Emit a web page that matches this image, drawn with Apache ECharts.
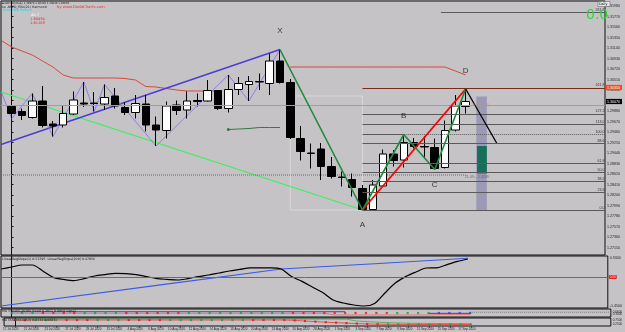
<!DOCTYPE html>
<html><head><meta charset="utf-8">
<script src="https://cdn.jsdelivr.net/npm/echarts@6/dist/echarts.min.js"></script>
<style>html,body{margin:0;padding:0;background:#c6c3c6;}#c{width:625px;height:332px;}</style>
</head><body><div id="c"></div>
<script>
// ---------- data ----------
const dates = ['17 Jul 2020','21 Jul 2020','23 Jul 2020','27 Jul 2020','29 Jul 2020','31 Jul 2020','4 Aug 2020','6 Aug 2020','10 Aug 2020','12 Aug 2020','14 Aug 2020','18 Aug 2020','20 Aug 2020','24 Aug 2020','26 Aug 2020','28 Aug 2020','1 Sep 2020','3 Sep 2020','7 Sep 2020','9 Sep 2020','11 Sep 2020','15 Sep 2020','17 Sep 2020'];
const opens  = [1.2997,1.2987,1.2975,1.3008,1.2962,1.2960,1.2982,1.3004,1.3004,1.3002,1.3018,1.2995,1.2985,1.3002,1.2960,1.2949,1.3000,1.2990,1.3009,1.3008,1.3029,1.2993,1.3031,1.3041,1.3047,1.3043,1.3088,1.3045,1.2933,1.2904,1.2912,1.2877,1.2856,1.2851,1.2833,1.2791,1.2838,1.2902,1.2890,1.2925,1.2917,1.2915,1.2875,1.2950,1.2997];
const closes = [1.2983,1.2979,1.3008,1.2959,1.2958,1.2983,1.3010,1.3002,1.3003,1.3015,1.2998,1.2985,1.3003,1.2960,1.2950,1.2998,1.2989,1.3008,1.3007,1.3029,1.2993,1.3031,1.3043,1.3047,1.3046,1.3088,1.3045,1.2935,1.2907,1.2903,1.2877,1.2857,1.2855,1.2835,1.2791,1.2840,1.2902,1.2889,1.2925,1.2917,1.2916,1.2873,1.2949,1.2998,1.3007];
const lows   = [1.2973,1.2970,1.2973,1.2955,1.2937,1.2955,1.2980,1.2996,1.2987,1.2990,1.2993,1.2980,1.2973,1.2947,1.2918,1.2933,1.2980,1.2973,1.2997,1.3007,1.2990,1.2985,1.3020,1.3008,1.3030,1.3020,1.3043,1.2932,1.2889,1.2873,1.2850,1.2853,1.2837,1.2817,1.2790,1.2791,1.2837,1.2877,1.2875,1.2913,1.2894,1.2871,1.2873,1.2947,1.2983];
const highs  = [1.3017,1.2993,1.3023,1.3038,1.2968,1.3000,1.3027,1.3046,1.3026,1.3041,1.3034,1.3005,1.3020,1.3020,1.2977,1.3007,1.3009,1.3027,1.3023,1.3050,1.3030,1.3060,1.3056,1.3058,1.3063,1.3103,1.3111,1.3052,1.2958,1.2923,1.2924,1.2896,1.2867,1.2863,1.2840,1.2850,1.2911,1.2910,1.2941,1.2934,1.2938,1.2933,1.2969,1.3020,1.3032];

const priceTicks = [1.3198,1.3177,1.3156,1.3135,1.3114,1.3093,1.3072,1.3051,1.3030,1.3009,1.2988,1.2967,1.2946,1.2925,1.2904,1.2883,1.2862,1.2841,1.2820,1.2799,1.2778,1.2757,1.2736,1.2715];

// red channel line (two pieces)
const redLineAStart = -1;
const redLineA = [1.3129,1.3116,1.3108,1.3100,1.3088,1.3076,1.3060,1.3054,1.3054,1.3054,1.3054,1.3054,1.3053,1.3050,1.3037,1.3036,1.3033,1.3030,1.3028,1.3028,1.3028,1.3028];
const redLineBStart = 27;
const redLineB = [1.3076,1.3076,1.3076,1.3076,1.3076,1.3076,1.3076,1.3076,1.3076,1.3076,1.3076,1.3076,1.3076,1.3076,1.3076,1.3076,1.3068,1.3060];
const hLevel = 1.3035;            // long salmon horizontal
const dottedLevel = 1.2860;       // dotted horizontal
// trend lines (candle index, price)
const limeIdx = [-1.03, 34], limeP = [1.3026, 1.2790];
const blueIdx = [-1.03, 26], blueP = [1.2921, 1.3111];
const zigIdx = [-1,0,2,4,7,8,9,14,21,23,26];
const zigP   = [1.3026,1.2973,1.3023,1.2937,1.3046,1.2987,1.3041,1.2918,1.3060,1.3008,1.3111];
const xaIdx = [26,34], xaP = [1.3111,1.2790];
const abcdIdx = [34,38,41,44], abcdP = [1.2790,1.2941,1.2871,1.3032];
const adIdx = [34,44], adP = [1.2790,1.3032];
const projIdx = [44,47], projP = [1.3032,1.2924];
const dgStart = 21, dgLine = [1.2951,1.2952,1.2953,1.2955,1.2955,1.2955];
// fibonacci
const fibRatios = [0,23.6,38.2,50,61.8,88.6,100,113,127.2,161.8,261.8];
const fibTexts  = ['0.0','23.6','38.2','50.0','61.8','88.6','100.0','113.0','127.2','161.8','261.8'];
const fibStarts = [34,34,34,34,34,34,38,34,34,34,41.6];
// boxes
const bandIdx = [45.03,46.05], bandP = [1.3017,1.2789];
const tealIdx = [45.1,46.05], tealP = [1.2918,1.2863];
const rectIdx = [27,34], rectP = [1.3018,1.2790];
// point labels
const ptNames = ['X','A','B','C','D'];
const ptIdx = [26,34,38,41,44];
const ptP = [1.3148,1.2760,1.2978,1.2841,1.3069];

// oscillator panel
const oscStart = -1;
const osc = [0.40,0.50,0.60,0.60,0.30,-0.02,-0.12,-0.18,-0.08,0.05,0.12,0.18,0.17,0.12,0.02,-0.08,-0.12,-0.15,-0.08,0.02,0.10,0.20,0.30,0.38,0.46,0.46,0.46,0.40,0.02,-0.22,-0.50,-0.78,-1.15,-1.30,-1.40,-1.45,-1.32,-0.80,-0.30,0.02,0.25,0.45,0.46,0.62,0.78,0.90];
const oscSlowIdx = [-1.03,14,26,35,44];
const oscSlow = [-1.45,-0.42,0.40,0.66,0.935];

// strip panels
const s1Blue = [0.66,0.66,0.66,0.66,0.66,0.66,0.66,0.66,0.66,0.66,0.66,0.66,0.66,0.66,0.66,0.66,0.66,0.66,0.66,0.66,0.66,0.66,0.66,0.66,0.66,0.66,0.66,0.66,0.66,0.66,0.66,0.66,0.66,null,null,null,null,null,null,null,0.46,0.46,0.46,0.46,0.46];
const s1Red  = [0.46,0.46,0.46,0.46,0.46,0.46,0.46,0.46,0.46,0.46,0.46,0.46,0.46,0.46,0.46,0.46,0.46,0.46,0.46,0.46,0.46,0.46,0.46,0.46,0.46,0.46,0.46,0.46,0.46,0.46,0.46,0.25,0.25,0.25,0.25,0.25,0.25,0.25,0.25,0.25,0.25,0.30,0.30,0.30,0.30];
const s1Dots = 'gggrrrrggggrrrrrrggggggggggrrrrrrrrrrggggbbbbg';
const s2Red  = [0.75,0.75,0.75,0.75,0.75,0.75,0.75,0.75,0.75,0.75,0.75,0.75,0.75,0.75,0.75,0.75,0.75,0.75,0.75,0.75,0.75,0.75,0.75,0.75,0.75,0.75,0.75,0.70,0.62,0.55,0.48,0.42,0.36,0.30,0.26,0.23,0.21,0.20,0.19,0.19,0.19,0.19,0.19,0.19,0.19];
const s2Green= [0.85,0.85,0.85,0.85,0.85,0.85,0.85,0.85,0.85,0.85,0.85,0.85,0.85,0.85,0.85,0.85,0.85,0.85,0.85,0.85,0.85,0.85,0.85,0.85,0.85,0.85,0.85,0.85,0.85,0.85,0.85,0.85,0.85,0.62,0.55,0.48,0.42,0.38,0.35,0.33,0.32,0.31,0.30,0.30,0.29];
const s2Dots = 'rrgggrrrgggrrrrggggggggrrrrrrrrrrrrrggggggggg';

// ---------- layout ----------
const XMIN = -1.03, XMAX = 57.5;
const PMIN = 1.2700, PMAX = 1.3208;
const BG = '#c6c3c6';
const tiny = 3.6;
const seq = (start, arr) => arr.map((v, k) => [start + k, v]);
const pairs = (xs, ys) => xs.map((x, k) => [x, ys[k]]);
const dotColor = c => c === 'g' ? '#11a23a' : (c === 'b' ? '#2d3fe0' : '#ee1111');
const near = (a, b) => Math.abs(a - b) < 1e-7;

const grids = [
  {left:1, top:1, width:610, height:254},
  {left:1, top:256, width:610, height:52},
  {left:1, top:309, width:610, height:8},
  {left:1, top:318, width:610, height:8}
].map(g => Object.assign(g, {show:true, borderColor:'#111', borderWidth:1, backgroundColor:'transparent'}));

const xAxes = grids.map((g, i) => ({
  type:'value', gridIndex:i, min:XMIN, max:XMAX, show: i === 3,
  axisLine:{show:false}, splitLine:{show:false},
  axisTick:{show: i === 3, length:1.5, lineStyle:{color:'#333'}, customValues: dates.map((d,k)=>2*k)},
  axisLabel:{show: i === 3, customValues: dates.map((d,k)=>2*k), formatter: v => dates[Math.round(v/2)] || '', fontSize:3, color:'#222', margin:1.5, padding:[0,8,0,0]}
}));

const axLine = {show:true, lineStyle:{color:'#111', width:1}};
const priceLabelValues = priceTicks.concat([hLevel, closes[44]]);
const yAxes = [
  {type:'value', gridIndex:0, position:'right', min:PMIN, max:PMAX, axisLine:axLine, splitLine:{show:false},
   axisTick:{show:true, length:2, customValues:priceTicks, lineStyle:{color:'#222'}},
   axisLabel:{customValues:priceLabelValues, margin:1, fontSize:tiny, color:'#222',
     formatter: v => near(v, hLevel) ? '{o|' + v.toFixed(5) + '}' : (near(v, closes[44]) ? '{k|' + v.toFixed(5) + '}' : '{n|' + v.toFixed(5) + '}'),
     rich:{
       n:{fontSize:tiny, color:'#222', padding:[0,0,0,1]},
       o:{fontSize:tiny, color:'#fff', backgroundColor:'#ff4a14', padding:[0.6,2,0.6,1]},
       k:{fontSize:tiny, color:'#fff', backgroundColor:'#000', padding:[0.6,2,0.6,1]}
     }}},
  {type:'value', gridIndex:1, position:'right', min:-1.55, max:1.05, axisLine:axLine, splitLine:{show:false},
   axisTick:{show:false}, axisLabel:{customValues:[0.93,0,-1.45], margin:1,
     formatter: v => near(v, 0) ? '{r|0.00}' : '{n|' + v.toFixed(4) + '}',
     rich:{n:{fontSize:tiny, color:'#222', padding:[0,0,0,1]}, r:{fontSize:3, color:'#fff', backgroundColor:'#e01010', padding:[0.4,1,0.4,1]}}}},
  {type:'value', gridIndex:2, position:'right', min:0, max:1, axisLine:axLine, splitLine:{show:false},
   axisTick:{show:false}, axisLabel:{customValues:[0.66,0.3], formatter: v => v.toFixed(4), fontSize:3, color:'#222', margin:2}},
  {type:'value', gridIndex:3, position:'right', min:0, max:1, axisLine:axLine, splitLine:{show:false},
   axisTick:{show:false}, axisLabel:{customValues:[0.75,0.25], formatter: v => v.toFixed(4), fontSize:3, color:'#222', margin:2}}
];

const line = (name, data, color, width, extra) => Object.assign({
  type:'line', name, data, xAxisIndex:0, yAxisIndex:0, showSymbol:false, symbol:'none',
  lineStyle:{color, width}, silent:true, animation:false, z:3
}, extra || {});

// fib mark lines
const fibA = lows[34], fibB = highs[38];
const fibLines = fibRatios.map((r, k) => {
  const lvl = fibA + (fibB - fibA) * r / 100;
  return [
    {coord:[fibStarts[k], lvl],
     lineStyle:{color: r === 161.8 ? '#7a2a18' : '#5a5a5a', width:1, type: r === 100 ? 'dotted' : 'solid'},
     label:{show:true, position:'insideEndTop', formatter: fibTexts[k], fontSize:tiny, color:'#333', distance:0.5}},
    {coord:[XMAX, lvl]}
  ];
});
fibLines.push([{coord:[34, fibB], lineStyle:{color:'#5a5a5a', width:1, type:'solid'}, label:{show:false}}, {coord:[38, fibB]}]);

const series = [
  {
    type:'candlestick', name:'price', xAxisIndex:0, yAxisIndex:0, barWidth:8, animation:false, z:4,
    data: opens.map((o, i) => [i, o, closes[i], lows[i], highs[i]]),
    itemStyle:{color:'#ffffff', color0:'#000000', borderColor:'#000000', borderColor0:'#000000', borderWidth:1}
  },
  line('redA', seq(redLineAStart, redLineA), '#d8483f', 1),
  line('redB', seq(redLineBStart, redLineB), '#d8483f', 1),
  line('lime', pairs(limeIdx, limeP), '#3bf05a', 1.3, {
    markLine:{symbol:['none','none'], silent:true, animation:false, data:[
      {yAxis:hLevel, lineStyle:{color:'#e3876c', width:1, type:'solid'}, label:{show:false}},
      ...fibLines
    ]},
    markArea:{silent:true, animation:false, data:[
      [{coord:[bandIdx[0], bandP[0]], itemStyle:{color:'#9b9ab6'}}, {coord:[bandIdx[1], bandP[1]]}],
      [{coord:[tealIdx[0], tealP[0]], itemStyle:{color:'#176f5a'}}, {coord:[tealIdx[1], tealP[1]]}],
      [{coord:[rectIdx[0], rectP[0]], itemStyle:{color:'rgba(0,0,0,0)', borderColor:'#d9d7d9', borderWidth:1}}, {coord:[rectIdx[1], rectP[1]]}]
    ]}
  }),
  line('dotted', [[XMIN, dottedLevel], [44, dottedLevel]], '#6a6a6a', 1, {lineStyle:{color:'#6a6a6a', width:1, type:'dotted'}}),
  line('blueTrend', pairs(blueIdx, blueP), '#4b3dd6', 1.4),
  line('zigzag', pairs(zigIdx, zigP), '#8e73ea', 0.9),
  line('darkGreen', seq(dgStart, dgLine), '#2f7a4a', 1, {showSymbol:true, symbol:'circle', symbolSize:(v, p) => p.dataIndex === 0 ? 3 : 0, itemStyle:{color:'#2f7a4a'}}),
  line('XA', pairs(xaIdx, xaP), '#1d8a3b', 1.6, {z:5}),
  line('AD', pairs(adIdx, adP), '#ff0000', 1.8, {z:5}),
  line('ABCD', pairs(abcdIdx, abcdP), '#1d8a3b', 1.6, {z:6}),
  line('proj', pairs(projIdx, projP), '#000000', 1.3, {z:6}),
  {
    type:'scatter', name:'pts', xAxisIndex:0, yAxisIndex:0, symbolSize:0, silent:true, animation:false, z:7,
    data: ptNames.map((n, k) => [ptIdx[k], ptP[k], n]),
    label:{show:true, position:'inside', formatter: p => p.data[2], fontSize:8, color:'#111', fontFamily:'Liberation Sans'}
  },
  {
    type:'scatter', name:'note1', xAxisIndex:0, yAxisIndex:0, symbolSize:0, silent:true, animation:false, z:7,
    data: [[44.7, 1.3000]],
    label:{show:true, position:'inside', align:'left', formatter: '0.6(14:41)', fontSize:tiny, color:'#d98a55'}
  },
  {
    type:'scatter', name:'note2', xAxisIndex:0, yAxisIndex:0, symbolSize:0, silent:true, animation:false, z:7,
    data: [[43.9, 1.2856]],
    label:{show:true, position:'inside', align:'left', formatter: '21.4% - 1.3209', fontSize:tiny, color:'#555'}
  },
  // oscillator
  {type:'line', name:'osc', xAxisIndex:1, yAxisIndex:1, data: seq(oscStart, osc), symbol:'none', smooth:0.3,
   lineStyle:{color:'#000', width:1.2}, silent:true, animation:false, z:4,
   markLine:{symbol:['none','none'], silent:true, animation:false, data:[
     {yAxis:0, lineStyle:{color:'#e03a3a', width:1, type:'solid'}, label:{show:false}}
   ]}},
  {type:'line', name:'oscSlow', xAxisIndex:1, yAxisIndex:1, data: pairs(oscSlowIdx, oscSlow), symbol:'none',
   lineStyle:{color:'#3a5ae8', width:1.1}, silent:true, animation:false, z:3},
  // strip 1
  {type:'line', xAxisIndex:2, yAxisIndex:2, data: seq(0, s1Blue), symbol:'none', lineStyle:{color:'#3440e0', width:1}, silent:true, animation:false},
  {type:'line', xAxisIndex:2, yAxisIndex:2, data: seq(0, s1Red), symbol:'none', lineStyle:{color:'#ef7070', width:1}, silent:true, animation:false},
  {type:'line', xAxisIndex:2, yAxisIndex:2, data: [[44, 0.6], [XMAX, 0.6]], symbol:'none', lineStyle:{color:'#777', width:1, type:'dotted'}, silent:true, animation:false},
  {type:'scatter', xAxisIndex:2, yAxisIndex:2, symbol:'rect', symbolSize:2.2, silent:true, animation:false, z:5,
   data: s1Red.map((v, i) => ({value:[i, 0.5], itemStyle:{color: dotColor(s1Dots[i])}}))},
  // strip 2
  {type:'line', xAxisIndex:3, yAxisIndex:3, data: seq(0, s2Green), symbol:'none', lineStyle:{color:'#5fae5f', width:1}, silent:true, animation:false},
  {type:'line', xAxisIndex:3, yAxisIndex:3, data: seq(0, s2Red), symbol:'none', lineStyle:{color:'#ee5050', width:1}, silent:true, animation:false},
  {type:'scatter', xAxisIndex:3, yAxisIndex:3, symbol:'rect', symbolSize:2.2, silent:true, animation:false, z:5,
   data: s2Red.map((v, i) => ({value:[i, v], itemStyle:{color: dotColor(s2Dots[i])}}))}
];

const t = (x, y, text, fill, size, extra) => Object.assign({type:'text', x, y, silent:true, z:100,
  style:{text, fill, font: (size || tiny) + 'px "DejaVu Sans", sans-serif'}}, extra || {});

const option = {
  backgroundColor: BG,
  animation:false,
  grid: grids, xAxis: xAxes, yAxis: yAxes, series,
  graphic: [
    t(2, 1.5, '\u25AA GBPUSD,Daily 1.29970 1.30320 1.29830 1.30070', '#111', 2.6),
    t(2, 5.5, 'ss: ABCD_Fibo(21) Harmonic', '#222', 3.2),
    t(57, 5.5, 'by www.DodaCharts.com', '#ff2a2a', 3.8),
    t(3, 8.5, 'Auto Fibo Pattern', '#10d8e8', 3.4),
    t(31, 13, '45.7', '#ffffff'),
    t(30, 17, '1.60434', '#ff1a1a'),
    t(30, 21, '1.61103', '#ff1a1a'),
    t(586, 8, '0.0', '#2fd83a', 14),
    {type:'rect', shape:{x:598, y:1.5, width:12, height:5}, style:{fill:'#e6e6e6', stroke:'#555', lineWidth:0.5}, z:99, silent:true},
    t(599, 2.4, 'Daily', '#000', 3.3),
    t(2, 257.5, 'LinearRegSlope(1) 0.52395  LinearRegSlope(200) 0.47856', '#111', 3.2),
    t(2, 309.5, 'MA Trend(5,20,80) trend 0.2011 0.0860 signal', '#111', 3.2),
    t(2, 318.8, 'MA FASCO(14,3,3) 0.3334 0.0883', '#111', 3.2)
  ]
};

const chart = echarts.init(document.getElementById('c'), null, {renderer:'canvas', width:625, height:332});
chart.setOption(option);
</script>
</body></html>
